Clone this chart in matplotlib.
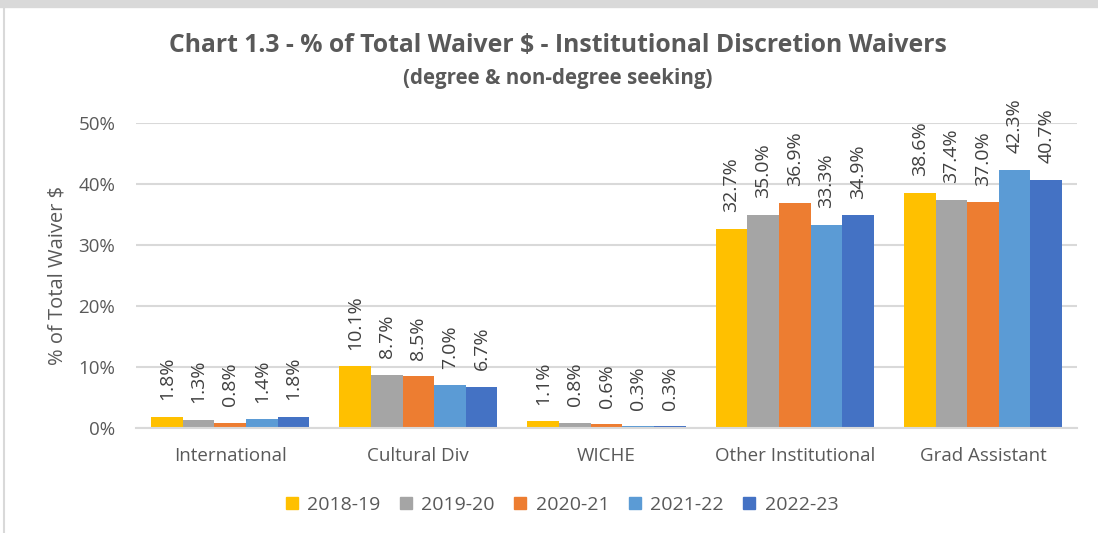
import numpy as np
import matplotlib.pyplot as plt
from matplotlib.lines import Line2D

# data (percent of total waiver $)
categories = ['International', 'Cultural Div', 'WICHE', 'Other Institutional', 'Grad Assistant']
years = ['2018-19', '2019-20', '2020-21', '2021-22', '2022-23']
v_1819 = [1.8, 10.1, 1.1, 32.7, 38.6]
v_1920 = [1.3, 8.7, 0.8, 35.0, 37.4]
v_2021 = [0.8, 8.5, 0.6, 36.9, 37.0]
v_2122 = [1.4, 7.0, 0.3, 33.3, 42.3]
v_2223 = [1.8, 6.7, 0.3, 34.9, 40.7]
colors = ['#FFC000', '#A5A5A5', '#ED7D31', '#5B9BD5', '#4472C4']

series = [v_1819, v_1920, v_2021, v_2122, v_2223]

plt.rcParams['font.family'] = ['Open Sans', 'DejaVu Sans']
txt = '#595959'

fig = plt.figure(figsize=(10.98, 5.33), dpi=100)
ax = fig.add_axes([0.1239, 0.197, 0.857, 0.572])

x = np.arange(len(categories))
w = 0.168
for i, (vals, c, lab) in enumerate(zip(series, colors, years)):
    pos = x + (i - 2) * w
    ax.bar(pos, np.array(vals) / 100, width=w, color=c, label=lab)
    for p, v in zip(pos, vals):
        ax.annotate(f'{v:.1f}%', (p, v / 100), xytext=(0, 12), textcoords='offset points',
                    rotation=90, ha='center', va='bottom', fontsize=14, color='#404040')

ax.set_xlim(-0.5, 4.5)
ax.set_ylim(0, 0.5)
ticks = np.arange(0, 0.51, 0.1)
ax.set_yticks(ticks)
ax.set_yticklabels([f'{int(round(t * 100))}%' for t in ticks])
ax.set_xticks(x)
ax.set_xticklabels(categories)
ax.tick_params(length=0, labelsize=13.5, colors=txt)
ax.tick_params(axis='y', pad=15)
ax.tick_params(axis='x', pad=14)
ax.grid(axis='y', color='#D9D9D9', lw=1.5)
ax.set_axisbelow(True)
for s in ['top', 'right', 'left']:
    ax.spines[s].set_visible(False)
ax.spines['bottom'].set_color('#D9D9D9')
ax.spines['bottom'].set_linewidth(1.5)
ax.set_ylabel('% of Total Waiver $', fontsize=14.5, color=txt, labelpad=8)

fig.text(0.508, 0.915, 'Chart 1.3 - % of Total Waiver $ - Institutional Discretion Waivers',
         ha='center', va='center', fontsize=17.8, fontweight='bold', color=txt)
fig.text(0.508, 0.853, '(degree & non-degree seeking)', ha='center', va='center',
         fontsize=14.8, fontweight='bold', color=txt)

handles = [Line2D([], [], marker='s', ls='', color=c, markersize=9) for c in colors]
fig.legend(handles, years, loc='center', bbox_to_anchor=(0.511, 0.052), ncol=5, frameon=False,
           fontsize=14, labelcolor=txt, handlelength=0.8, handletextpad=0.4, columnspacing=0.9)

# chart frame
fig.add_artist(Line2D([0, 1], [0.992, 0.992], transform=fig.transFigure, color='#D9D9D9', lw=6))
fig.add_artist(Line2D([0.004, 0.004], [0, 0.985], transform=fig.transFigure, color='#D9D9D9', lw=1.5))

fig.savefig('out.png', dpi=100)
